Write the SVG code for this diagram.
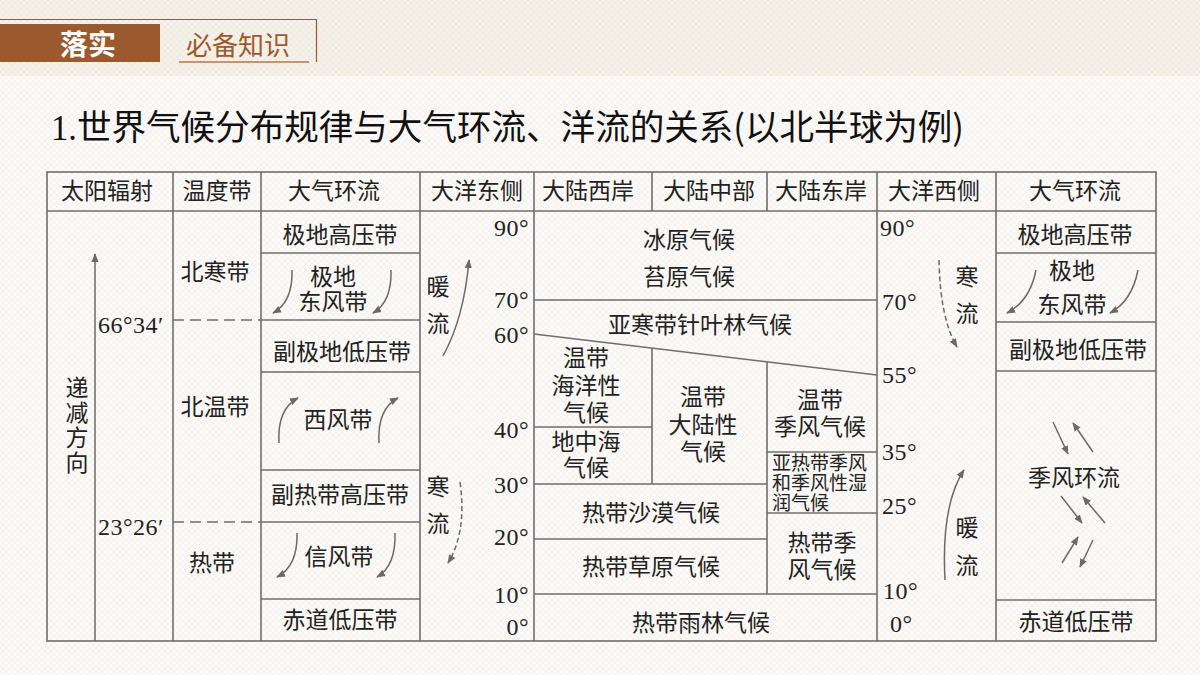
<svg xmlns="http://www.w3.org/2000/svg" width="1200" height="675" viewBox="0 0 1200 675">
<defs>
<pattern id="bg" width="6" height="6" patternUnits="userSpaceOnUse"><rect width="6" height="6" fill="#fbfaf8"/><path d="M0 0L6 6M6 0L0 6" stroke="#f1ede6" stroke-width="0.6"/></pattern>
<pattern id="bgTop" width="6" height="6" patternUnits="userSpaceOnUse"><rect width="6" height="6" fill="#f5f0e8"/><path d="M0 0L6 6M6 0L0 6" stroke="#ece4d8" stroke-width="0.6"/></pattern>
<marker id="ah" viewBox="0 0 10 10" refX="9" refY="5" markerWidth="9" markerHeight="9" markerUnits="userSpaceOnUse" orient="auto"><path d="M0,1 L10,5 L0,9 Z" fill="#6a6a6a"/></marker>
<style>
.t{font-family:"Liberation Serif","Noto Sans CJK SC",serif;font-size:23px;fill:#222;text-anchor:middle;dominant-baseline:central}
.s{font-family:"Liberation Serif","Noto Sans CJK SC",serif;font-size:19px;fill:#222;dominant-baseline:central}
.d{font-family:"Liberation Serif","Noto Sans CJK SC",serif;font-size:24px;fill:#222;dominant-baseline:central;letter-spacing:0.5px}
.r{text-anchor:end}
.ln{stroke:#6e6e6e;stroke-width:1.6;fill:none}
.dash{stroke:#6e6e6e;stroke-width:1.6;fill:none;stroke-dasharray:11 6}
.ar{stroke:#6a6a6a;stroke-width:1.5;fill:none;marker-end:url(#ah)}
.ard{stroke:#6a6a6a;stroke-width:1.5;fill:none;stroke-dasharray:5 3;marker-end:url(#ah)}
</style>
</defs>
<rect width="1200" height="675" fill="url(#bg)"/>
<rect width="1200" height="76" fill="url(#bgTop)"/>

<g id="header">
<rect x="0" y="24" width="160" height="38" fill="#9a5a2d"/>
<path d="M0 19.5H316.5V62" stroke="#9a5a2d" stroke-width="1.2" fill="none"/>
<text x="88" y="43" font-family="Noto Sans CJK SC, sans-serif" font-size="28" font-weight="bold" fill="#ffffff" text-anchor="middle" dominant-baseline="central">落实</text>
<text x="238" y="43" font-family="Noto Sans CJK SC, sans-serif" font-size="26" fill="#9a5a2d" text-anchor="middle" dominant-baseline="central">必备知识</text>
<line x1="179" y1="62" x2="309" y2="62" stroke="#b07a52" stroke-width="1.5"/>
</g>

<g id="title">
<text x="51" y="140" font-family="Noto Sans CJK SC, sans-serif" font-size="35" fill="#111" textLength="913" lengthAdjust="spacingAndGlyphs"><tspan font-family="Liberation Serif, serif">1.</tspan>世界气候分布规律与大气环流、洋流的关系(以北半球为例)</text>
</g>

<g id="table-lines">
<rect x="47" y="172" width="1109" height="469" class="ln"/>
<line x1="47" y1="211" x2="1156" y2="211" class="ln"/>
<line x1="173" y1="172" x2="173" y2="641" class="ln"/>
<line x1="261" y1="172" x2="261" y2="641" class="ln"/>
<line x1="420" y1="172" x2="420" y2="641" class="ln"/>
<line x1="534" y1="172" x2="534" y2="641" class="ln"/>
<line x1="652" y1="172" x2="652" y2="211" class="ln"/>
<line x1="767" y1="172" x2="767" y2="211" class="ln"/>
<line x1="877" y1="172" x2="877" y2="641" class="ln"/>
<line x1="996" y1="172" x2="996" y2="641" class="ln"/>
<line x1="261" y1="253" x2="420" y2="253" class="ln"/>
<line x1="261" y1="320" x2="420" y2="320" class="ln"/>
<line x1="261" y1="372" x2="420" y2="372" class="ln"/>
<line x1="261" y1="470" x2="420" y2="470" class="ln"/>
<line x1="261" y1="522" x2="420" y2="522" class="ln"/>
<line x1="261" y1="599" x2="420" y2="599" class="ln"/>
<line x1="173" y1="320" x2="261" y2="320" class="dash"/>
<line x1="173" y1="522" x2="261" y2="522" class="dash"/>
<line x1="534" y1="300" x2="877" y2="300" class="ln"/>
<line x1="534" y1="334" x2="877" y2="375" class="ln"/>
<line x1="652" y1="348" x2="652" y2="484" class="ln"/>
<line x1="767" y1="362" x2="767" y2="594" class="ln"/>
<line x1="534" y1="427" x2="652" y2="427" class="ln"/>
<line x1="534" y1="484" x2="767" y2="484" class="ln"/>
<line x1="767" y1="452" x2="877" y2="452" class="ln"/>
<line x1="767" y1="513" x2="877" y2="513" class="ln"/>
<line x1="534" y1="539" x2="767" y2="539" class="ln"/>
<line x1="534" y1="594" x2="877" y2="594" class="ln"/>
<line x1="996" y1="253" x2="1156" y2="253" class="ln"/>
<line x1="996" y1="322" x2="1156" y2="322" class="ln"/>
<line x1="996" y1="371" x2="1156" y2="371" class="ln"/>
<line x1="996" y1="600" x2="1156" y2="600" class="ln"/>
</g>

<g id="connectors">
<line x1="95" y1="641" x2="95" y2="254" class="ar"/>
<path d="M292,270 Q293,302 273,313" class="ar"/>
<path d="M391,270 Q392,302 373,313" class="ar"/>
<path d="M279,443 Q277,409 298,398" class="ar"/>
<path d="M379,443 Q377,409 398,398" class="ar"/>
<path d="M297,533 Q298,566 277,577" class="ar"/>
<path d="M395,533 Q396,566 377,577" class="ar"/>
<path d="M443,356 Q464,318 469,260" class="ar"/>
<path d="M460,482 Q467,532 448,563" class="ard"/>
<path d="M939,260 Q940,318 957,347" class="ard"/>
<path d="M945,580 Q941,505 964,470" class="ar"/>
<path d="M1036,270 Q1030,301 1007,313" class="ar"/>
<path d="M1138,270 Q1132,301 1110,313" class="ar"/>
<line x1="1053" y1="422" x2="1068" y2="454" class="ar"/>
<line x1="1093" y1="452" x2="1073" y2="423" class="ar"/>
<line x1="1061" y1="496" x2="1082" y2="523" class="ar"/>
<line x1="1105" y1="523" x2="1083" y2="497" class="ar"/>
<line x1="1062" y1="563" x2="1078" y2="537" class="ar"/>
<line x1="1093" y1="540" x2="1080" y2="567" class="ar"/>
</g>

<g id="header-row">
<text class="t" x="107" y="191">太阳辐射</text>
<text class="t" x="217" y="191">温度带</text>
<text class="t" x="334" y="191">大气环流</text>
<text class="t" x="477" y="191">大洋东侧</text>
<text class="t" x="588" y="191">大陆西岸</text>
<text class="t" x="709" y="191">大陆中部</text>
<text class="t" x="821" y="191">大陆东岸</text>
<text class="t" x="934" y="191">大洋西侧</text>
<text class="t" x="1075" y="191">大气环流</text>
</g>

<g id="solar">
<text class="t" x="77" y="388">递</text>
<text class="t" x="77" y="413">减</text>
<text class="t" x="77" y="438">方</text>
<text class="t" x="77" y="463">向</text>
<text class="d" x="98" y="325">66°34′</text>
<text class="d" x="98" y="527">23°26′</text>
</g>

<g id="zones">
<text class="t" x="215" y="272">北寒带</text>
<text class="t" x="215" y="407">北温带</text>
<text class="t" x="212" y="563">热带</text>
</g>

<g id="atm-left">
<text class="t" x="340" y="235">极地高压带</text>
<text class="t" x="333" y="277">极地</text>
<text class="t" x="333" y="302">东风带</text>
<text class="t" x="342" y="352">副极地低压带</text>
<text class="t" x="338" y="420">西风带</text>
<text class="t" x="340" y="495">副热带高压带</text>
<text class="t" x="339" y="557">信风带</text>
<text class="t" x="340" y="620">赤道低压带</text>
</g>

<g id="ocean-east">
<text class="d r" x="529" y="228">90°</text>
<text class="d r" x="529" y="300">70°</text>
<text class="d r" x="529" y="335">60°</text>
<text class="d r" x="529" y="430">40°</text>
<text class="d r" x="529" y="485">30°</text>
<text class="d r" x="529" y="537">20°</text>
<text class="d r" x="529" y="595">10°</text>
<text class="d r" x="529" y="627">0°</text>
<text class="t" x="438" y="287">暖</text>
<text class="t" x="438" y="324">流</text>
<text class="t" x="438" y="487">寒</text>
<text class="t" x="438" y="524">流</text>
</g>

<g id="climates">
<text class="t" x="689" y="240">冰原气候</text>
<text class="t" x="689" y="277">苔原气候</text>
<text class="t" x="700" y="325">亚寒带针叶林气候</text>
<text class="t" x="586" y="358">温带</text>
<text class="t" x="586" y="386">海洋性</text>
<text class="t" x="586" y="413">气候</text>
<text class="t" x="586" y="442">地中海</text>
<text class="t" x="586" y="468">气候</text>
<text class="t" x="703" y="397">温带</text>
<text class="t" x="703" y="425">大陆性</text>
<text class="t" x="703" y="452">气候</text>
<text class="t" x="820" y="400">温带</text>
<text class="t" x="820" y="427">季风气候</text>
<text class="s" x="772" y="463">亚热带季风</text>
<text class="s" x="772" y="483">和季风性湿</text>
<text class="s" x="772" y="503">润气候</text>
<text class="t" x="651" y="513">热带沙漠气候</text>
<text class="t" x="651" y="567">热带草原气候</text>
<text class="t" x="822" y="543">热带季</text>
<text class="t" x="822" y="570">风气候</text>
<text class="t" x="701" y="623">热带雨林气候</text>
</g>

<g id="ocean-west">
<text class="d" x="880" y="228">90°</text>
<text class="d" x="882" y="302">70°</text>
<text class="d" x="882" y="375">55°</text>
<text class="d" x="882" y="452">35°</text>
<text class="d" x="882" y="506">25°</text>
<text class="d" x="883" y="591">10°</text>
<text class="d" x="890" y="624">0°</text>
<text class="t" x="967" y="277">寒</text>
<text class="t" x="967" y="314">流</text>
<text class="t" x="967" y="528">暖</text>
<text class="t" x="967" y="566">流</text>
</g>

<g id="atm-right">
<text class="t" x="1075" y="235">极地高压带</text>
<text class="t" x="1072" y="271">极地</text>
<text class="t" x="1072" y="305">东风带</text>
<text class="t" x="1078" y="350">副极地低压带</text>
<text class="t" x="1074" y="478">季风环流</text>
<text class="t" x="1076" y="622">赤道低压带</text>
</g>
</svg>
